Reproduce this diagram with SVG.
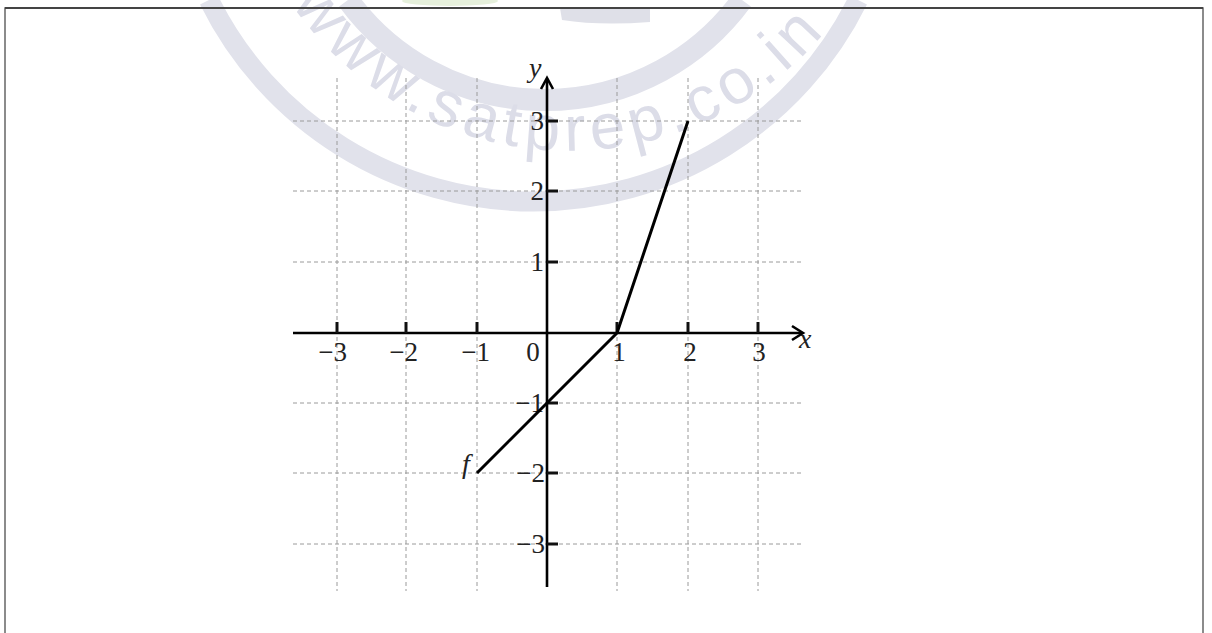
<svg xmlns="http://www.w3.org/2000/svg" width="1212" height="633" viewBox="0 0 1212 633">
  <style>
    .grid { stroke: #9a9a9a; stroke-width: 1; stroke-dasharray: 4 3; fill: none; }
    .axis { stroke: #000; stroke-width: 2.6; fill: none; }
    .tick { stroke: #111; stroke-width: 3; }
    .lbl { font-family: "Liberation Serif", "Times New Roman", serif; font-size: 27px; fill: #222; }
    .var { font-family: "Liberation Serif", "Times New Roman", serif; font-size: 28px; font-style: italic; fill: #222; }
    .wm { fill: none; stroke: #e1e2eb; }
    .wmtext { font-family: "Liberation Sans", Arial, sans-serif; font-size: 64px; fill: #dcdde8; letter-spacing: 6px; }
  </style>
  <defs>
    <path id="wmArc" d="M 262 -50 A 335 335 0 0 0 880 -60"/>
  </defs>
  <rect x="0" y="0" width="1212" height="633" fill="#fff"/>

  <g id="watermark">
    <ellipse cx="450" cy="1" rx="48" ry="5" fill="#e6f0dc"/>
    <path d="M 560 8 L 650 8 L 650 22 Q 600 26 562 20 Z" fill="#dfe0e8"/>
    <path class="wm" stroke-width="20" d="M 209 0 A 362 362 0 0 0 858 0"/>
    <path class="wm" stroke-width="22" d="M 348 0 A 244 244 0 0 0 742 0"/>
    <text class="wmtext"><textPath href="#wmArc" startOffset="62">www.satprep.co.in</textPath></text>
  </g>

  <g id="frame">
    <path d="M 5 633 L 5 8 L 1203 8 L 1203 633" fill="none" stroke="#666" stroke-width="1.5"/>
    <line x1="5" y1="8" x2="1203" y2="8" stroke="#444" stroke-width="2"/>
  </g>

  <g id="grid">
    <line class="grid" x1="293" y1="121" x2="803" y2="121"/>
    <line class="grid" x1="293" y1="191" x2="803" y2="191"/>
    <line class="grid" x1="293" y1="262" x2="803" y2="262"/>
    <line class="grid" x1="293" y1="403" x2="803" y2="403"/>
    <line class="grid" x1="293" y1="473" x2="803" y2="473"/>
    <line class="grid" x1="293" y1="544" x2="803" y2="544"/>
    <line class="grid" x1="337" y1="78" x2="337" y2="591"/>
    <line class="grid" x1="406" y1="78" x2="406" y2="591"/>
    <line class="grid" x1="477" y1="78" x2="477" y2="591"/>
    <line class="grid" x1="617" y1="78" x2="617" y2="591"/>
    <line class="grid" x1="688" y1="78" x2="688" y2="591"/>
    <line class="grid" x1="758" y1="78" x2="758" y2="591"/>
  </g>

  <g id="axes">
    <line class="axis" x1="293" y1="333" x2="802" y2="333"/>
    <polyline class="axis" points="792,326 803,333 792,340"/>
    <line class="axis" x1="547" y1="587" x2="547" y2="79"/>
    <polyline class="axis" points="541,89 547,78 553,89"/>
    <text class="var" x="799" y="348">x</text>
    <text class="var" x="529" y="77">y</text>
  </g>

  <g id="ticks">
    <line class="tick" x1="337" y1="322" x2="337" y2="333"/>
    <line class="tick" x1="406" y1="322" x2="406" y2="333"/>
    <line class="tick" x1="477" y1="322" x2="477" y2="333"/>
    <line class="tick" x1="617" y1="322" x2="617" y2="333"/>
    <line class="tick" x1="688" y1="322" x2="688" y2="333"/>
    <line class="tick" x1="758" y1="322" x2="758" y2="333"/>
    <line class="tick" x1="547" y1="121" x2="558" y2="121"/>
    <line class="tick" x1="547" y1="191" x2="558" y2="191"/>
    <line class="tick" x1="547" y1="262" x2="558" y2="262"/>
    <line class="tick" x1="547" y1="403" x2="558" y2="403"/>
    <line class="tick" x1="547" y1="473" x2="558" y2="473"/>
    <line class="tick" x1="547" y1="544" x2="558" y2="544"/>
  </g>

  <g id="xlabels">
    <text class="lbl" x="347" y="361" text-anchor="end">−3</text>
    <text class="lbl" x="418" y="361" text-anchor="end">−2</text>
    <text class="lbl" x="490" y="361" text-anchor="end">−1</text>
    <text class="lbl" x="533" y="361" text-anchor="middle">0</text>
    <text class="lbl" x="619" y="361" text-anchor="middle">1</text>
    <text class="lbl" x="690" y="361" text-anchor="middle">2</text>
    <text class="lbl" x="759" y="361" text-anchor="middle">3</text>
  </g>

  <g id="ylabels">
    <text class="lbl" x="544" y="130" text-anchor="end">3</text>
    <text class="lbl" x="544" y="200" text-anchor="end">2</text>
    <text class="lbl" x="544" y="271" text-anchor="end">1</text>
    <text class="lbl" x="544" y="412" text-anchor="end">−1</text>
    <text class="lbl" x="545" y="482" text-anchor="end">−2</text>
    <text class="lbl" x="545" y="553" text-anchor="end">−3</text>
  </g>

  <g id="function-f">
    <polyline points="477,473 547,403 617,333 688,121" fill="none" stroke="#000" stroke-width="3" stroke-linejoin="round"/>
    <text class="var" x="462" y="473">f</text>
  </g>
</svg>
